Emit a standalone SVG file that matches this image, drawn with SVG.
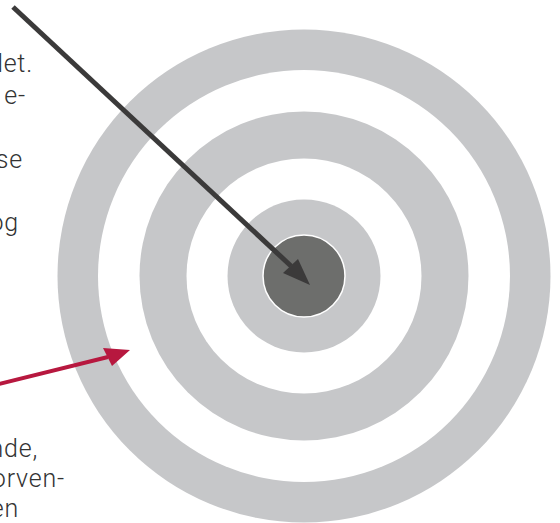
<svg xmlns="http://www.w3.org/2000/svg" width="560" height="523" viewBox="0 0 560 523">
<style>
.g{fill:#c6c7c9}
.w{fill:#ffffff}
.t{font-family:Roboto,"Liberation Sans",sans-serif;font-size:25px;font-weight:300;letter-spacing:0.8px;fill:#333333;text-anchor:end}
</style>
<rect width="560" height="523" fill="#ffffff"/>
<g id="ring-outer"><circle cx="304" cy="276" r="246.5" class="g"/><circle cx="304" cy="276" r="206" class="w"/></g>
<g id="ring-middle"><circle cx="304" cy="276" r="164.5" class="g"/><circle cx="304" cy="276" r="117.5" class="w"/></g>
<g id="ring-inner"><circle cx="304" cy="276" r="76.5" class="g"/></g>
<g id="bullseye"><circle cx="304" cy="276" r="41" fill="#6d6e6c" stroke="#ffffff" stroke-width="1.5"/></g>
<g id="text-top">
<text class="t" x="33" y="72">det.</text>
<text class="t" x="26" y="104">e-</text>
<text class="t" x="23" y="168">se</text>
<text class="t" x="19" y="231">og</text>
</g>
<g id="text-bottom">
<text class="t" x="38" y="457">nde,</text>
<text class="t" x="65" y="487">orven-</text>
<text class="t" x="19" y="517">en</text>
</g>
<g id="connectors">
<line x1="13" y1="7" x2="291" y2="266" stroke="#3b3a3a" stroke-width="5"/>
<polygon points="310,285 283,273 298,259" fill="#3b3a3a"/>
<line x1="-5" y1="385" x2="108" y2="357" stroke="#b7183f" stroke-width="4"/>
<polygon points="130,350 103,348 112,366" fill="#b7183f"/>
</g>
</svg>
